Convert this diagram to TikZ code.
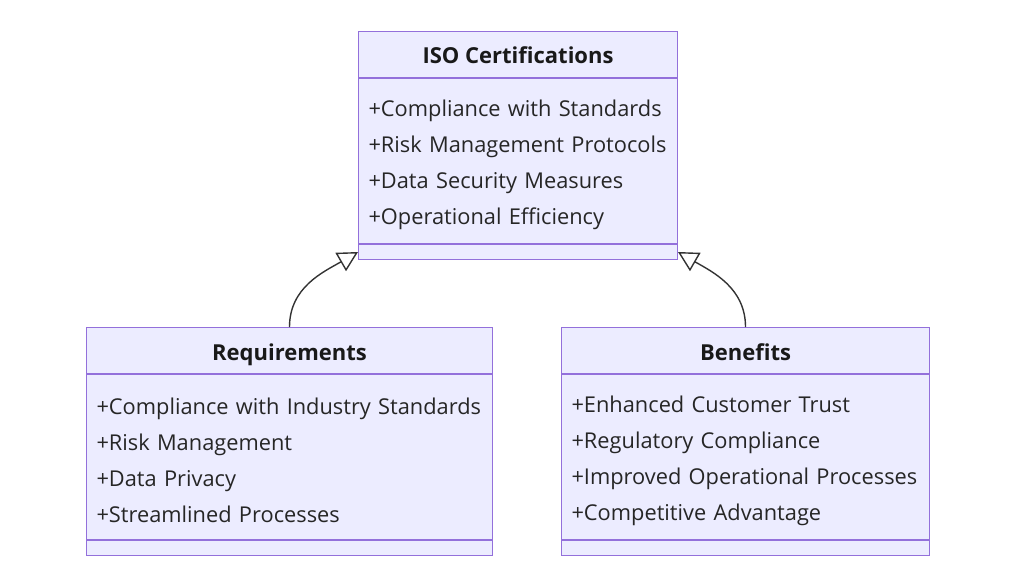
\documentclass[tikz,border=0pt]{standalone}
\usepackage{fontspec}
\setmainfont{Open Sans}
\usetikzlibrary{arrows.meta,positioning}
\definecolor{classfill}{HTML}{ECECFF}
\definecolor{classline}{HTML}{9370DB}
\definecolor{linkgray}{HTML}{333333}
\tikzset{
  classhead/.style={draw=classline,fill=classfill,line width=1pt,anchor=north west,
    minimum height=46pt,inner sep=0pt,text height=24pt,text depth=5pt,
    font=\fontsize{22}{26}\selectfont\bfseries,text=black!90},
  classbody/.style={draw=classline,fill=classfill,line width=1pt,anchor=north,
    minimum height=165pt,inner xsep=10pt,inner ysep=0pt,align=left,
    font=\fontsize{21.8}{36}\selectfont,text=black!85,
    execute at begin node={\rule{0pt}{24pt}}},
  classfoot/.style={draw=classline,fill=classfill,line width=1pt,anchor=north,
    minimum height=15pt,inner sep=0pt},
  inherit/.style={draw=linkgray,line width=1.4pt,
    -{Triangle[open,length=20pt,width=21pt,fill=white]}}
}
\begin{document}
\begin{tikzpicture}[x=1pt,y=-1pt]
  \useasboundingbox (0,0) rectangle (1024,575);
  % classes: name / members / width / top-left corner
  \foreach \n/\t/\m/\w/\x/\y in {
    iso/ISO Certifications/{+Compliance with Standards\\+Risk Management Protocols\\+Data Security Measures\\+Operational Efficiency}/319/358/31,
    req/Requirements/{+Compliance with Industry Standards\\+Risk Management\\+Data Privacy\\+Streamlined Processes}/406/86/327,
    ben/Benefits/{+Enhanced Customer Trust\\+Regulatory Compliance\\+Improved Operational Processes\\+Competitive Advantage}/368/561/327}
  {
    \node[classhead,minimum width=\w pt] (\n Head) at (\x,\y) {\t};
    \pgfmathsetmacro{\tw}{\w-20}
    \node[classbody,text width=\tw pt] (\n Body) at (\n Head.south) {\m};
    \node[classfoot,minimum width=\w pt] (\n Foot) at (\n Body.south) {};
  }
  \draw[inherit] (reqHead.north) to[out=90,in=-150] (isoFoot.west);
  \draw[inherit] (benHead.north) to[out=90,in=-30] (isoFoot.east);
\end{tikzpicture}
\end{document}
